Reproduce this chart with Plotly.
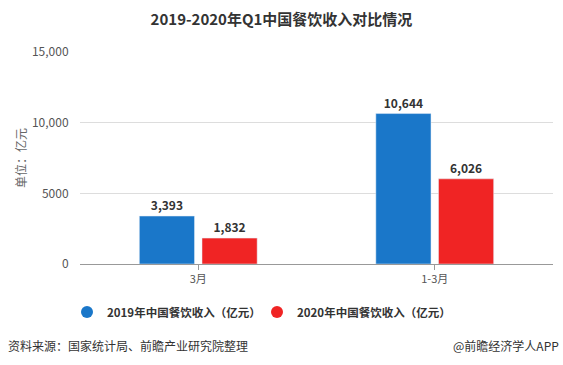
import plotly.graph_objects as go

categories = ["3月", "1-3月"]
values_2019 = [3393, 10644]
values_2020 = [1832, 6026]
series_names = ["2019年中国餐饮收入（亿元）", "2020年中国餐饮收入（亿元）"]
colors = ["#1a77c9", "#f02424"]
tick_vals = [0, 5000, 10000, 15000]
tick_text = ["0", "5000", "10,000", "15,000"]

FONT = "Noto Sans CJK SC, Microsoft YaHei, sans-serif"

fig = go.Figure()
for vals, name, col in zip([values_2019, values_2020], series_names, colors):
    fig.add_trace(go.Bar(
        x=categories, y=vals, name=name, showlegend=False,
        marker=dict(color=col),
        text=[f"<b>{v:,}</b>" for v in vals], textposition="outside",
        textfont=dict(size=12, color="#333333", family=FONT), cliponaxis=False,
    ))
for name, col in zip(series_names, colors):
    fig.add_trace(go.Scatter(
        x=[None], y=[None], mode="markers", name=f"<b>{name}</b>",
        marker=dict(symbol="circle", size=11, color=col),
    ))

fig.update_layout(
    width=563, height=365,
    margin=dict(l=80, r=10, t=52, b=101),
    paper_bgcolor="white", plot_bgcolor="white",
    barmode="group", bargap=0.47, bargroupgap=0.12,
    font=dict(family=FONT, color="#555555", size=11),
    title=dict(text="<b>2019-2020年Q1中国餐饮收入对比情况</b>", x=0.5, xanchor="center",
               y=0.945, yanchor="middle", font=dict(size=15, color="#333333", family=FONT)),
    showlegend=True,
    legend=dict(orientation="h", x=-13/473, xanchor="left", y=-48/212, yanchor="middle",
                font=dict(size=11.5, color="#333333", family=FONT), itemsizing="constant",
                traceorder="normal", itemwidth=30, entrywidth=145, entrywidthmode="pixels"),
    xaxis=dict(showline=True, linecolor="#999999", linewidth=1, ticks="outside",
               tickcolor="#999999", ticklen=5, tickfont=dict(size=11, color="#555555")),
    yaxis=dict(range=[0, 15000], tickvals=tick_vals, ticktext=tick_text,
               showgrid=True, gridcolor="#dddddd", zeroline=False, showline=False,
               ticks="outside", ticklen=8, tickcolor="rgba(0,0,0,0)",
               tickfont=dict(size=12, color="#555555"),
               title=dict(text="单位：亿元", font=dict(size=12, color="#666666"), standoff=2)),
)

fig.add_annotation(text="资料来源：国家统计局、前瞻产业研究院整理", xref="paper", yref="paper",
                   x=-74/473, y=-81/212, xanchor="left", yanchor="middle", showarrow=False,
                   font=dict(size=12, color="#333333", family=FONT))
fig.add_annotation(text="@前瞻经济学人APP", xref="paper", yref="paper",
                   x=1.0 + 8/473, y=-81/212, xanchor="right", yanchor="middle", showarrow=False,
                   font=dict(size=12, color="#333333", family=FONT))

fig.write_html("out.html", post_script="document.body.style.margin='0';",
               config={"displayModeBar": False})
